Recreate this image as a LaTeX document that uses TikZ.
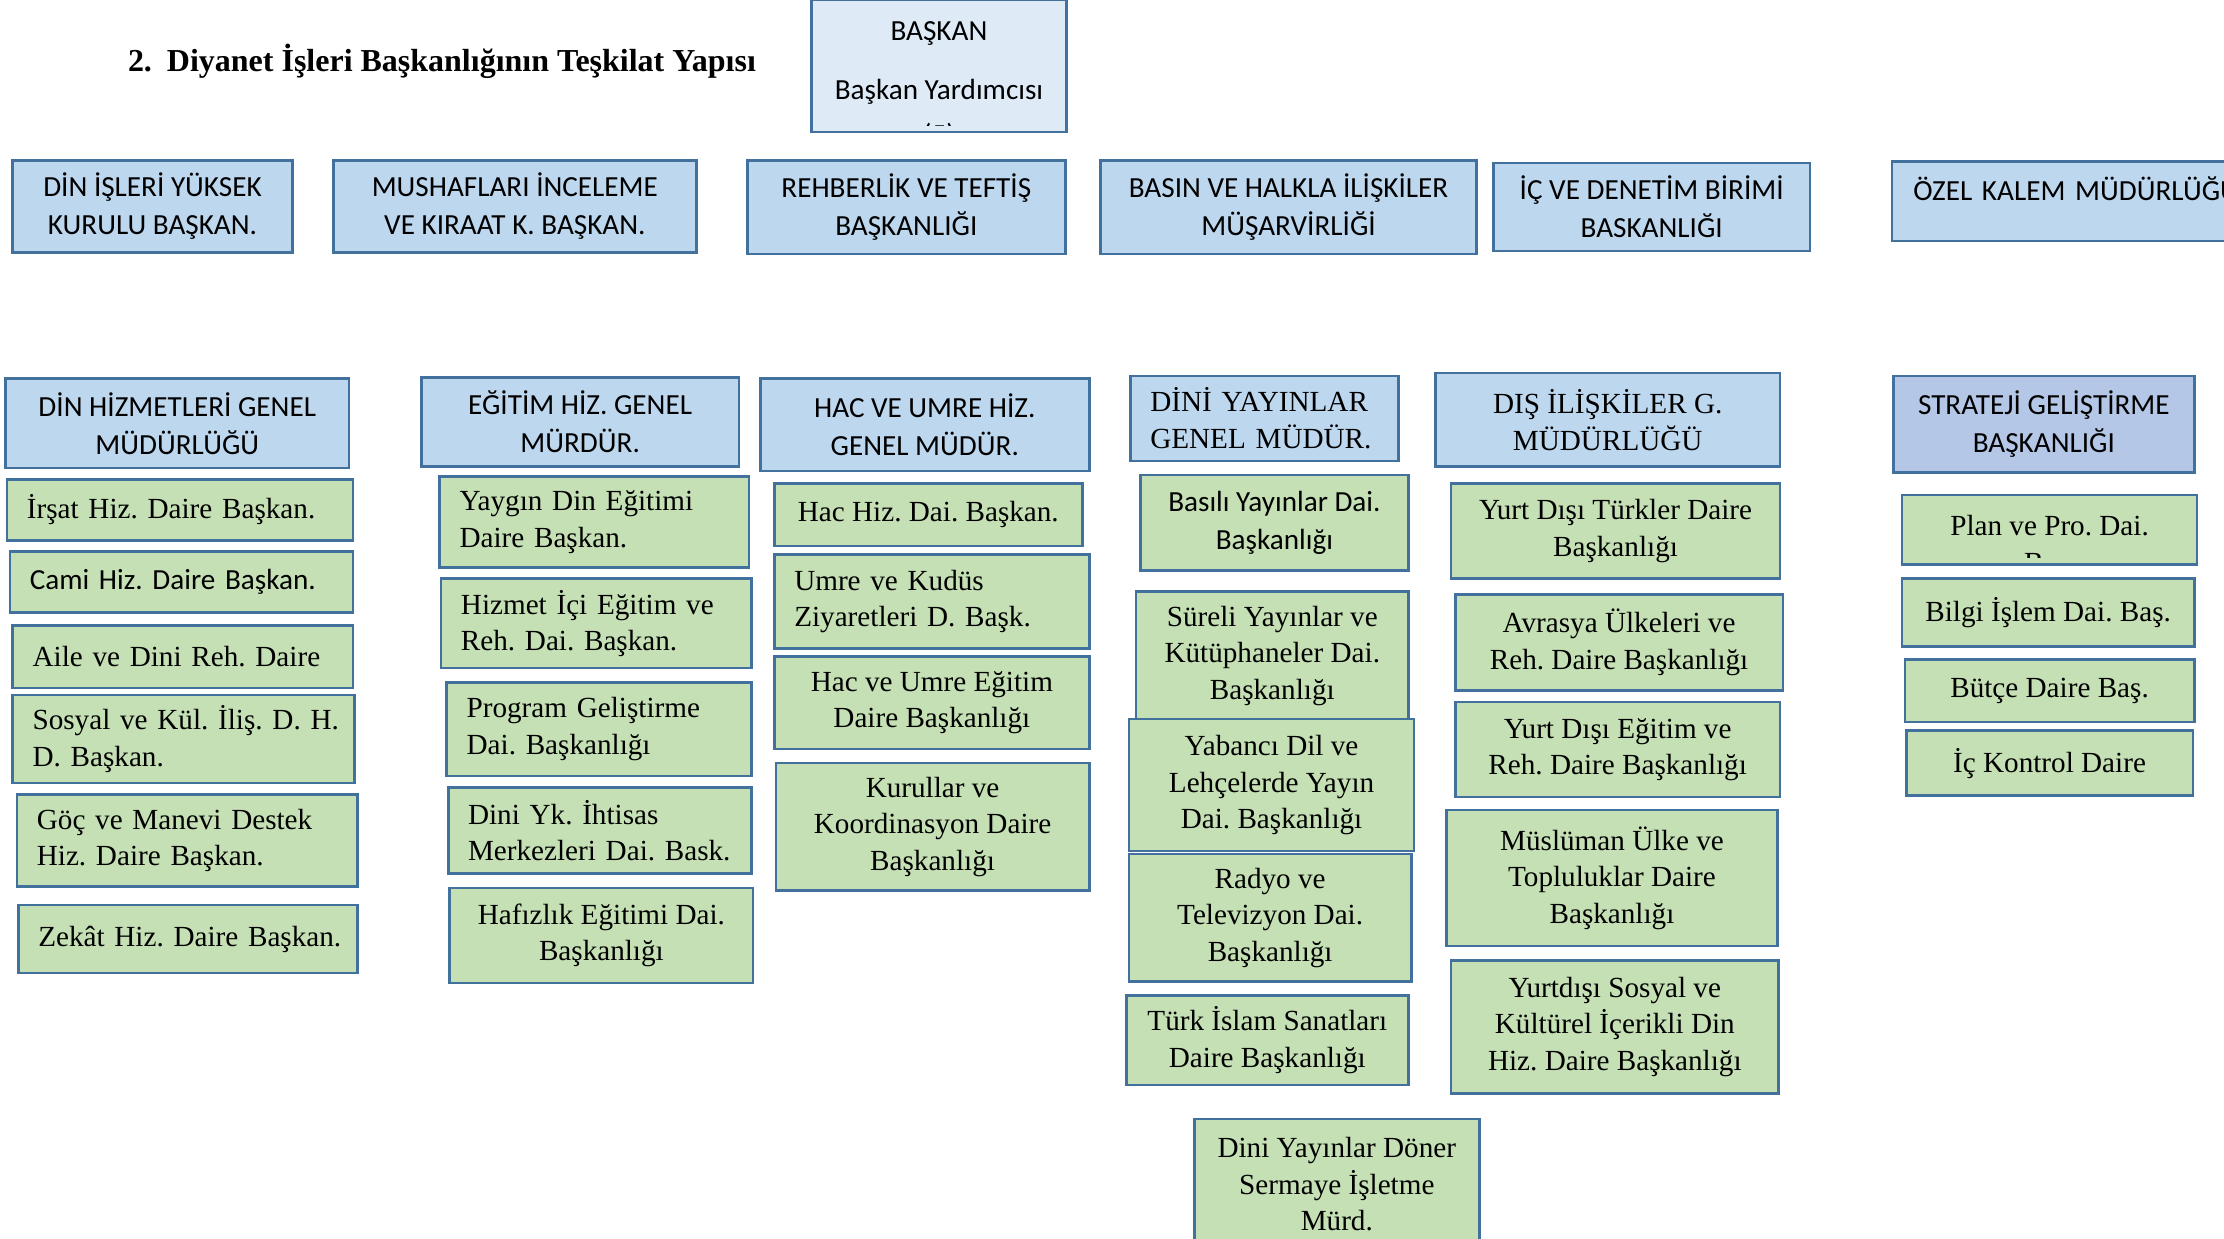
\documentclass[tikz,border=0pt]{standalone}
\usepackage{fontspec}
\setmainfont{Liberation Serif}
\setsansfont{Carlito}
\definecolor{bordc}{HTML}{41719C}
\definecolor{hdrc}{HTML}{BDD7EE}
\definecolor{subc}{HTML}{C5E0B4}
\definecolor{strc}{HTML}{B4C7E7}
\definecolor{topc}{HTML}{DEEBF7}
\begin{document}
\frenchspacing
\begin{tikzpicture}[x=0.02837cm,y=-0.02837cm,
    wh/.style 2 args={minimum width=#1*0.02837cm,minimum height=#2*0.02837cm},
    box/.style={draw=bordc,line width=1.5pt,inner sep=0pt,align=center},
    hdr/.style={box,fill=hdrc},
    sub/.style={box,fill=subc},
    ser/.style={font=\fontsize{16.6}{20.8}\selectfont},
    san/.style={font=\sffamily\fontsize{16.6}{21.5}\selectfont},
    lft/.style={align=left,text width=#1cm}]
  \useasboundingbox (0,0) rectangle (1568,873);
  % title and president
  \node[anchor=west,inner sep=0pt,font=\bfseries\fontsize{18.2}{22}\selectfont] (title) at (90,43)
    {2.\hspace{0.3cm}Diyanet İşleri Başkanlığının Teşkilat Yapısı};
  \node[box,fill=topc,wh={180}{93}] (baskan) at (662,46.5) {};
  \begin{scope}
    \clip (574,2) rectangle (750,88.5);
    \node[san,align=center,anchor=north,inner sep=0pt] (baskantxt) at (662,15)
      {BAŞKAN\\[12.3pt]Başkan Yardımcısı\\[4pt](5)};
  \end{scope}
  % units tied to the president
  \node[hdr,san,wh={197}{65}] (dik) at (107.5,145.5) {DİN İŞLERİ YÜKSEK\\KURULU BAŞKAN.};
  \node[hdr,san,wh={256}{65}] (mush) at (363,145.5) {MUSHAFLARI İNCELEME\\VE KIRAAT K. BAŞKAN.};
  \node[hdr,san,wh={224}{66}] (rehb) at (639,146) {REHBERLİK VE TEFTİŞ\\BAŞKANLIĞI};
  \node[hdr,san,wh={265}{66}] (basin) at (908.5,146) {BASIN VE HALKLA İLİŞKİLER\\MÜŞARVİRLİĞİ};
  \node[hdr,san,wh={223}{62}] (icden) at (1164.5,146) {İÇ VE DENETİM BİRİMİ\\BASKANLIĞI};
  \node[hdr,san,wh={266}{56},lft=6.695,text depth=0.5cm] (ozel) at (1467,142) {\mbox{ÖZEL KALEM MÜDÜRLÜĞÜ}};
  % general directorates
  \node[hdr,san,wh={242}{63}] (dinhiz) at (125,298.5) {DİN HİZMETLERİ GENEL\\MÜDÜRLÜĞÜ};
  \node[hdr,san,wh={224}{63}] (egitim) at (409,297.5) {EĞİTİM HİZ. GENEL\\MÜRDÜR.};
  \node[hdr,san,wh={232}{65}] (hacumre) at (652,299.5) {HAC VE UMRE HİZ.\\GENEL MÜDÜR.};
  \node[hdr,ser,wh={189}{60},lft=4.568] (diniyay) at (891.5,295) {DİNİ YAYINLAR\\GENEL MÜDÜR.};
  \node[hdr,ser,wh={243}{66}] (disil) at (1133.5,296) {DIŞ İLİŞKİLER G.\\MÜDÜRLÜĞÜ};
  \node[box,fill=strc,san,wh={212}{68}] (strateji) at (1441,299) {STRATEJİ GELİŞTİRME\\BAŞKANLIĞI};
  % din hizmetleri
  \node[sub,ser,wh={244}{43},lft=6.128] (irsat) at (127,359.5) {\mbox{İrşat Hiz. Daire Başkan.}};
  \node[sub,san,wh={242}{43},lft=6.071] (cami) at (128,410.5) {\mbox{Cami Hiz. Daire Başkan.}};
  \node[sub,ser,wh={240}{44},lft=6.014] (aile) at (129,463) {Aile ve Dini Reh. Daire};
  \node[sub,ser,wh={241}{62},lft=6.043] (sosyal) at (129.5,521) {\mbox{Sosyal ve Kül. İliş. D. H.}\\D. Başkan.};
  \node[sub,ser,wh={240}{65},lft=6.014] (goc) at (132,592.5) {Göç ve Manevi Destek\\Hiz. Daire Başkan.};
  \node[sub,ser,wh={239}{48},lft=5.986] (zekat) at (132.5,662) {\mbox{Zekât Hiz. Daire Başkan.}};
  % egitim
  \node[sub,ser,wh={218}{64},lft=5.390] (yaygin) at (419,368) {Yaygın Din Eğitimi\\Daire Başkan.};
  \node[sub,ser,wh={219}{63},lft=5.419] (hizmet) at (420.5,439.5) {Hizmet İçi Eğitim ve\\Reh. Dai. Başkan.};
  \node[sub,ser,wh={215}{66},lft=5.305] (program) at (422.5,514) {Program Geliştirme\\Dai. Başkanlığı};
  \node[sub,ser,wh={214}{61},lft=5.277] (diniyk) at (423,585.5) {Dini Yk. İhtisas\\\mbox{Merkezleri Dai. Bask.}};
  \node[sub,ser,wh={214}{67}] (hafiz) at (424,659.5) {Hafızlık Eğitimi Dai.\\Başkanlığı};
  % hac ve umre
  \node[sub,ser,wh={217}{44}] (hachiz) at (654.5,363) {Hac Hiz. Dai. Başkan.};
  \node[sub,ser,wh={222}{66},lft=5.504] (umre) at (657,424) {Umre ve Kudüs\\Ziyaretleri D. Başk.};
  \node[sub,ser,wh={222}{65}] (hacegit) at (657,495.5) {Hac ve Umre Eğitim\\Daire Başkanlığı};
  \node[sub,ser,wh={221}{90}] (kurul) at (657.5,583) {Kurullar ve\\Koordinasyon Daire\\Başkanlığı};
  % dini yayinlar
  \node[sub,san,wh={189}{67}] (basili) at (898.5,368.5) {Basılı Yayınlar Dai.\\Başkanlığı};
  \node[sub,ser,wh={192}{91}] (sureli) at (897,462.5) {Süreli Yayınlar ve\\Kütüphaneler Dai.\\Başkanlığı};
  \node[sub,ser,wh={201}{93}] (yabanci) at (896.5,553.5) {Yabancı Dil ve\\Lehçelerde Yayın\\Dai. Başkanlığı};
  \node[sub,ser,wh={199}{90}] (radyo) at (895.5,647) {Radyo ve\\Televizyon Dai.\\Başkanlığı};
  \node[sub,ser,wh={199}{63}] (turk) at (893.5,733.5) {Türk İslam Sanatları\\Daire Başkanlığı};
  \node[sub,ser,wh={201}{92}] (doner) at (942.5,835) {Dini Yayınlar Döner\\Sermaye İşletme\\Mürd.};
  % dis iliskiler
  \node[sub,ser,wh={232}{67}] (yurtdisi) at (1139,374.5) {Yurt Dışı Türkler Daire\\Başkanlığı};
  \node[sub,ser,wh={231}{68}] (avrasya) at (1141.5,453) {Avrasya Ülkeleri ve\\Reh. Daire Başkanlığı};
  \node[sub,ser,wh={229}{67}] (yurtegit) at (1140.5,528.5) {Yurt Dışı Eğitim ve\\Reh. Daire Başkanlığı};
  \node[sub,ser,wh={233}{96}] (musluman) at (1136.5,619) {Müslüman Ülke ve\\Topluluklar Daire\\Başkanlığı};
  \node[sub,ser,wh={231}{94}] (yurtsos) at (1138.5,724) {Yurtdışı Sosyal ve\\Kültürel İçerikli Din\\Hiz. Daire Başkanlığı};
  % strateji
  \node[sub,wh={208}{49}] (plan) at (1445,373.5) {};
  \begin{scope}
    \clip (1343,351) rectangle (1547,393);
    \node[ser,align=center,anchor=north,inner sep=0pt] (plantxt) at (1445,363) {Plan ve Pro. Dai.\\Baş.};
  \end{scope}
  \node[sub,ser,wh={206}{48}] (bilgi) at (1444,432) {Bilgi İşlem Dai. Baş.};
  \node[sub,ser,wh={204}{44}] (butce) at (1445,487) {Bütçe Daire Baş.};
  \node[sub,ser,wh={202}{46}] (kontrol) at (1445,538) {İç Kontrol Daire};
\end{tikzpicture}
\end{document}
